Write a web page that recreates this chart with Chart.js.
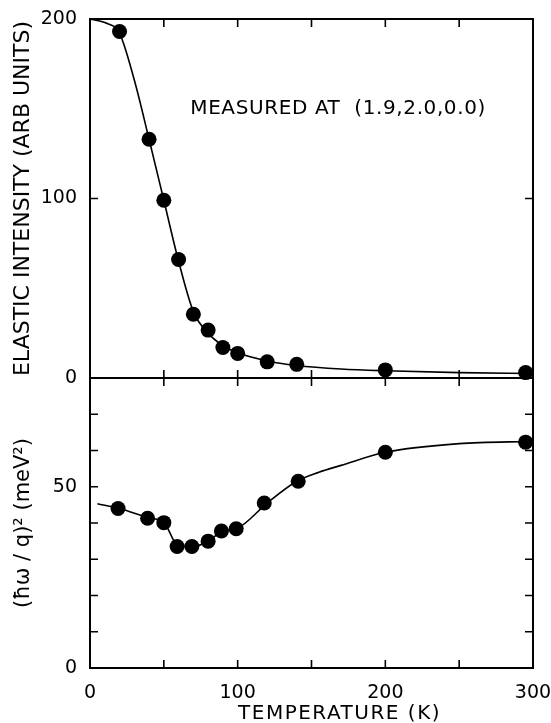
<!DOCTYPE html>
<html>
<head>
<meta charset="utf-8">
<script src="https://cdn.jsdelivr.net/npm/chart.js@4.4.0/dist/chart.umd.min.js"></script>
<style>
  html, body { margin: 0; padding: 0; background: #fff; }
  body { width: 551px; height: 723px; position: relative; overflow: hidden; }
  .panel { position: absolute; left: 0; width: 551px; }
  #top { top: 0; height: 390px; }
  #bottom { top: 370px; height: 353px; }
</style>
</head>
<body>
<div class="panel" id="top"><canvas id="intensityChart"></canvas></div>
<div class="panel" id="bottom"><canvas id="velocityChart"></canvas></div>
<script>
// elastic intensity (top panel)
const intensityTemps = [20, 40, 50, 60, 70, 80, 90, 100, 120, 140, 200, 295];
const intensityValues = [193, 133, 99, 66, 35.5, 26.7, 17, 13.7, 9, 7.6, 4.5, 3];
// drawn fit curve through the top panel
const intensityFitTemps = [0, 10, 20, 30, 40, 50, 60, 70, 80, 90, 100, 120, 140, 170, 200, 250, 300];
const intensityFitValues = [200, 198, 192, 166, 133, 99, 65, 37, 25, 18, 14, 9.5, 7, 5, 4, 3, 2.5];

// (hbar omega / q)^2 (bottom panel)
const velocityTemps = [19, 39, 50, 59, 69, 80, 89, 99, 118, 141, 200, 295];
const velocityValues = [44, 41.3, 40.1, 33.5, 33.5, 35, 37.8, 38.4, 45.5, 51.5, 59.5, 62.3];
const velocityFitTemps = [5, 20, 40, 50, 60, 70, 80, 90, 100, 120, 140, 155, 170, 200, 250, 300];
const velocityFitValues = [45.3, 44, 41.4, 40.2, 33.6, 33.5, 35, 37.8, 38.6, 45.5, 51.5, 54, 55.9, 59.5, 61.9, 62.5];

const xTicks = { min: 0, max: 300, step: 50 };
const intensityAxis = { min: 0, max: 200, step: 100 };
const velocityAxis = { min: 0, max: 80, step: 10, labels: [0, 50] };

const FONT = '"DejaVu Sans", sans-serif';
const toPoints = (xs, ys) => xs.map((x, i) => ({ x: x, y: ys[i] }));

// frame + inward tick marks + free text
const framePlugin = {
    id: 'frame',
    afterDraw(chart, args, opts) {
        const { ctx, chartArea: a, scales: { x, y } } = chart;
        ctx.save();
        ctx.strokeStyle = '#000';
        ctx.lineWidth = 2;
        ctx.strokeRect(a.left, a.top, a.width, a.height);
        ctx.lineWidth = 1.6;
        const len = 8;
        ctx.beginPath();
        x.ticks.forEach(t => {
            const px = x.getPixelForValue(t.value);
            if (px <= a.left + 1 || px >= a.right - 1) return;
            ctx.moveTo(px, a.top); ctx.lineTo(px, a.top + len);
            ctx.moveTo(px, a.bottom); ctx.lineTo(px, a.bottom - len);
        });
        y.ticks.forEach(t => {
            const py = y.getPixelForValue(t.value);
            if (py <= a.top + 1 || py >= a.bottom - 1) return;
            ctx.moveTo(a.left, py); ctx.lineTo(a.left + len, py);
            ctx.moveTo(a.right, py); ctx.lineTo(a.right - len, py);
        });
        ctx.stroke();
        (opts.texts || []).forEach(t => {
            ctx.font = '20px ' + FONT;
            ctx.letterSpacing = t.spacing + 'px';
            ctx.fillStyle = '#000';
            ctx.textAlign = 'center';
            ctx.textBaseline = 'middle';
            const px = x.getPixelForValue(t.x);
            const py = t.below != null ? a.bottom + t.below : y.getPixelForValue(t.y);
            ctx.fillText(t.text, px, py);
        });
        ctx.restore();
    }
};

// keep the chart area exactly where the padding puts it
const noEdgeX = h => s => { s.height = h; s.paddingLeft = 0; s.paddingRight = 0; };
const noEdgeY = w => s => { s.width = w; s.paddingTop = 0; s.paddingBottom = 0; };

function pointSet(data) {
    return {
        data: data,
        backgroundColor: '#000',
        borderWidth: 0,
        pointRadius: 7.5,
        pointHoverRadius: 7.5,
        showLine: false,
        clip: false,
        order: 0
    };
}

function fitSet(data) {
    return {
        data: data,
        borderColor: '#000',
        borderWidth: 1.6,
        pointRadius: 0,
        showLine: true,
        cubicInterpolationMode: 'monotone',
        clip: false,
        order: 1
    };
}

const intensityChart = new Chart(document.getElementById('intensityChart'), {
    type: 'scatter',
    data: {
        datasets: [
            pointSet(toPoints(intensityTemps, intensityValues)),
            fitSet(toPoints(intensityFitTemps, intensityFitValues))
        ]
    },
    options: {
        responsive: true,
        maintainAspectRatio: false,
        animation: false,
        layout: { padding: { top: 19, right: 18, bottom: 12, left: 0 } },
        plugins: {
            legend: { display: false },
            tooltip: { enabled: false },
            frame: { texts: [{ text: 'MEASURED AT  (1.9,2.0,0.0)', x: 168, y: 150, spacing: 0.6 }] }
        },
        scales: {
            x: {
                type: 'linear',
                min: xTicks.min,
                max: xTicks.max,
                ticks: { display: false, stepSize: xTicks.step },
                grid: { display: false },
                border: { display: false },
                afterFit: noEdgeX(0)
            },
            y: {
                min: intensityAxis.min,
                max: intensityAxis.max,
                ticks: {
                    stepSize: intensityAxis.step,
                    color: '#000',
                    padding: 5,
                    font: { family: FONT, size: 19 }
                },
                grid: { display: false },
                border: { display: false },
                title: {
                    display: true,
                    text: 'ELASTIC INTENSITY (ARB UNITS)',
                    color: '#000',
                    font: { family: FONT, size: 22 },
                    padding: { top: 10, bottom: 0 }
                },
                afterFit: noEdgeY(90)
            }
        }
    },
    plugins: [framePlugin]
});

const velocityChart = new Chart(document.getElementById('velocityChart'), {
    type: 'scatter',
    data: {
        datasets: [
            pointSet(toPoints(velocityTemps, velocityValues)),
            fitSet(toPoints(velocityFitTemps, velocityFitValues))
        ]
    },
    options: {
        responsive: true,
        maintainAspectRatio: false,
        animation: false,
        layout: { padding: { top: 8, right: 18, bottom: 0, left: 0 } },
        plugins: {
            legend: { display: false },
            tooltip: { enabled: false },
            frame: { texts: [{ text: 'TEMPERATURE (K)', x: 169, below: 46, spacing: 1.5 }] }
        },
        scales: {
            x: {
                type: 'linear',
                min: xTicks.min,
                max: xTicks.max,
                ticks: {
                    stepSize: xTicks.step,
                    autoSkip: false,
                    maxRotation: 0,
                    color: '#000',
                    padding: 6,
                    font: { family: FONT, size: 19 },
                    callback: v => (v % 100 === 0 ? v : '')
                },
                grid: { display: false },
                border: { display: false },
                afterFit: noEdgeX(55)
            },
            y: {
                min: velocityAxis.min,
                max: velocityAxis.max,
                ticks: {
                    stepSize: velocityAxis.step,
                    autoSkip: false,
                    color: '#000',
                    padding: 5,
                    font: { family: FONT, size: 19 },
                    callback: v => (velocityAxis.labels.includes(v) ? v : '')
                },
                grid: { display: false },
                border: { display: false },
                title: {
                    display: true,
                    text: '(ħω / q)² (meV²)',
                    color: '#000',
                    font: { family: FONT, size: 21 },
                    padding: { top: 11, bottom: 0 }
                },
                afterFit: noEdgeY(90)
            }
        }
    },
    plugins: [framePlugin]
});
</script>
</body>
</html>
